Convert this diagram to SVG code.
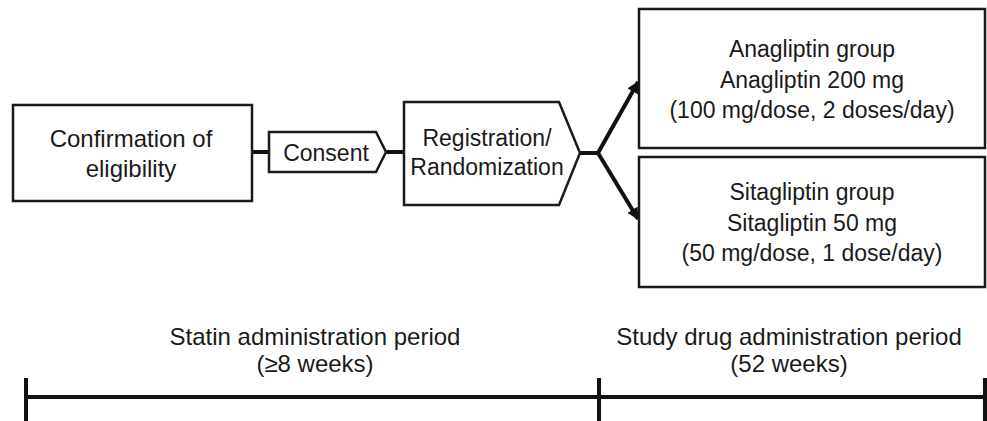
<svg xmlns="http://www.w3.org/2000/svg" width="987" height="421" viewBox="0 0 987 421">
<style>
.box{fill:#fff;stroke:#1a1a1a;stroke-width:2.5}
.t{font-family:"Liberation Sans",Arial,sans-serif;font-size:23px;fill:#1a1a1a;text-anchor:middle}
.b{font-family:"Liberation Sans",Arial,sans-serif;font-size:24px;fill:#1a1a1a;text-anchor:middle}
.c{stroke:#111;stroke-width:4;fill:none}
.tl{stroke:#111;stroke-width:4;fill:none}
</style>
<defs>
<marker id="ah" viewBox="0 0 10 10" refX="9" refY="5" markerWidth="3" markerHeight="3" orient="auto" markerUnits="strokeWidth">
<path d="M0,0 L10,5 L0,10 Z" fill="#111"/>
</marker>
</defs>
<g id="connectors">
<line class="c" x1="252" y1="152" x2="269" y2="152"/>
<line class="c" x1="386" y1="152" x2="404" y2="152"/>
<line class="c" x1="580" y1="153" x2="598" y2="153"/>
<line class="c" x1="598" y1="153" x2="638" y2="82" marker-end="url(#ah)"/>
<line class="c" x1="598" y1="153" x2="638" y2="219" marker-end="url(#ah)"/>
</g>
<g id="confirmation">
<rect class="box" x="13" y="105" width="239" height="96"/>
<text class="t" x="131" y="147" style="font-size:24px">Confirmation of</text>
<text class="t" x="131" y="177" style="font-size:24px">eligibility</text>
</g>
<g id="consent">
<path class="box" d="M269,132 H376 L386,152 L376,172 H269 Z"/>
<text class="t" x="326" y="161">Consent</text>
</g>
<g id="registration">
<path class="box" d="M404,102 H559 L580,153 L559,205 H404 Z"/>
<text class="t" x="487" y="146">Registration/</text>
<text class="t" x="487" y="175">Randomization</text>
</g>
<g id="anagliptin">
<rect class="box" x="639" y="9" width="346" height="139"/>
<text class="t" x="812" y="57">Anagliptin group</text>
<text class="t" x="812" y="88">Anagliptin 200 mg</text>
<text class="t" x="812" y="118">(100 mg/dose, 2 doses/day)</text>
</g>
<g id="sitagliptin">
<rect class="box" x="639" y="157" width="346" height="130"/>
<text class="t" x="812" y="200">Sitagliptin group</text>
<text class="t" x="812" y="231">Sitagliptin 50 mg</text>
<text class="t" x="812" y="261">(50 mg/dose, 1 dose/day)</text>
</g>
<g id="timeline">
<line class="tl" x1="26" y1="397" x2="985" y2="397"/>
<line class="tl" x1="26" y1="378" x2="26" y2="421"/>
<line class="tl" x1="599" y1="378" x2="599" y2="421"/>
<line class="tl" x1="985" y1="378" x2="985" y2="421"/>
<text class="b" x="315" y="345">Statin administration period</text>
<text class="b" x="315" y="372">(≥8 weeks)</text>
<text class="b" x="789" y="345">Study drug administration period</text>
<text class="b" x="789" y="372">(52 weeks)</text>
</g>
</svg>
